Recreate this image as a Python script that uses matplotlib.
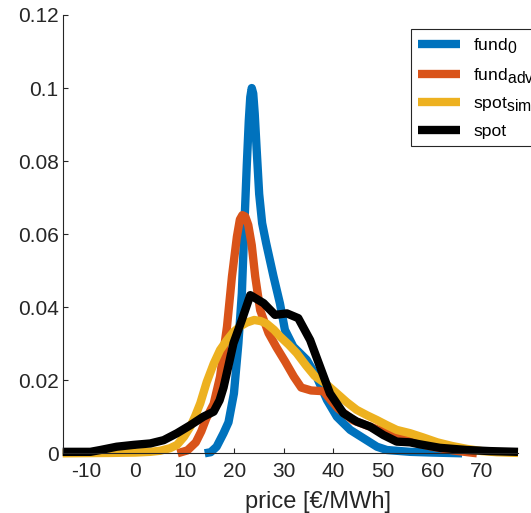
import matplotlib
matplotlib.use("Agg")
import matplotlib.pyplot as plt
import matplotlib._mathtext as mathtext_internal
from matplotlib.ticker import FuncFormatter

plt.rcParams["font.family"] = ["Liberation Sans", "DejaVu Sans"]
plt.rcParams["mathtext.fontset"] = "custom"
plt.rcParams["mathtext.rm"] = "Liberation Sans"
plt.rcParams["axes.unicode_minus"] = False
# MATLAB draws subscripts larger than mathtext does
mathtext_internal.SHRINK_FACTOR = 0.9

# price density curves
fund0_x = [14.0, 15.2, 16.4, 17.8, 18.8, 19.9, 20.8, 21.5, 22.0, 22.5, 22.9, 23.2,
           23.5, 23.8, 24.1, 24.5, 25.0, 25.6, 26.4, 27.9, 29.2, 30.2, 31.9, 34.6,
           36.6, 38.7, 40.7, 43.4, 46.1, 48.8, 50.8, 55.5, 60.0, 66.0]
fund0_y = [0.0, 0.0003, 0.0018, 0.0055, 0.0085, 0.0164, 0.0301, 0.0438, 0.0620, 0.0790, 0.0910, 0.0975,
           0.1000, 0.0985, 0.0930, 0.0830, 0.0710, 0.0630, 0.0576, 0.0484, 0.0410, 0.0338, 0.0292, 0.0256,
           0.0210, 0.0146, 0.0100, 0.0064, 0.0041, 0.0018, 0.0009, 0.0004, 0.0002, 0.0]

fundadv_x = [8.5, 10.5, 12.2, 13.3, 14.3, 15.8, 17.1, 18.5, 19.5, 20.5, 21.1, 21.6,
             22.2, 22.8, 23.5, 24.2, 25.2, 26.9, 28.5, 30.3, 32.0, 33.5, 35.5, 38.0,
             39.5, 41.0, 44.0, 47.4, 50.0, 53.0, 56.0, 60.0, 64.0, 69.0]
fundadv_y = [0.0, 0.0008, 0.003, 0.006, 0.0095, 0.0135, 0.021, 0.0347, 0.0484, 0.0593, 0.0640, 0.0652,
             0.0648, 0.0625, 0.0570, 0.0484, 0.0392, 0.0329, 0.0290, 0.0250, 0.0210, 0.0180, 0.0172, 0.0170,
             0.0145, 0.0122, 0.0090, 0.0073, 0.0060, 0.0045, 0.0030, 0.0018, 0.0008, 0.0]

spotsim_x = [-14.7, -5.0, 0.0, 3.0, 5.0, 7.0, 8.4, 9.8, 11.1, 12.1, 13.1, 14.4,
             15.8, 17.1, 18.5, 19.8, 21.2, 22.5, 24.0, 25.3, 26.5, 28.0, 29.2, 31.0,
             32.6, 34.5, 36.2, 38.5, 40.7, 42.7, 44.7, 46.8, 48.8, 50.8, 52.8, 55.5,
             58.0, 61.0, 64.0, 67.0, 70.0, 73.0, 77.3]
spotsim_y = [0.0, 0.0001, 0.0002, 0.0004, 0.0007, 0.0014, 0.0023, 0.0045, 0.0073, 0.0103, 0.0137, 0.0195,
             0.0245, 0.0283, 0.0310, 0.0332, 0.0348, 0.0358, 0.0365, 0.0362, 0.0355, 0.0338, 0.0320, 0.0297,
             0.0274, 0.0240, 0.0212, 0.0190, 0.0164, 0.0140, 0.0119, 0.0104, 0.0091, 0.0077, 0.0064, 0.0055,
             0.0044, 0.0030, 0.0020, 0.0012, 0.0006, 0.0003, 0.0001]

spot_x = [-14.7, -9.1, -7.1, -3.8, -0.4, 3.0, 5.7, 8.4, 11.1, 13.7, 15.8, 17.0,
          17.8, 18.8, 19.8, 21.5, 23.2, 25.9, 28.2, 30.6, 32.9, 35.3, 37.3, 39.3,
          42.0, 44.7, 47.4, 50.1, 52.8, 55.5, 57.3, 61.5, 67.0, 71.7, 77.3]
spot_y = [0.0004, 0.0004, 0.0009, 0.0018, 0.0023, 0.0027, 0.0036, 0.0055, 0.0077, 0.0100, 0.0114, 0.0145,
          0.0180, 0.0240, 0.0301, 0.0365, 0.0433, 0.0411, 0.0379, 0.0383, 0.0370, 0.0310, 0.0237, 0.0164,
          0.0110, 0.0087, 0.0073, 0.0050, 0.0032, 0.0030, 0.0025, 0.0015, 0.0009, 0.0006, 0.0004]

labels = ["fund$_\\mathrm{0}$", "fund$_\\mathrm{adv}$", "spot$_\\mathrm{sim}$", "spot"]
colors = ["#0072BD", "#D95319", "#EDB120", "#000000"]
x_ticks = [-10, 0, 10, 20, 30, 40, 50, 60, 70]
y_ticks = [0, 0.02, 0.04, 0.06, 0.08, 0.1, 0.12]

fig = plt.figure(figsize=(5.31, 5.13), dpi=100)
ax = fig.add_axes([62.7 / 531, (513 - 453.3) / 513, (518 - 62.7) / 531, 438.3 / 513])

series = [(fund0_x, fund0_y), (fundadv_x, fundadv_y), (spotsim_x, spotsim_y), (spot_x, spot_y)]
for (xs, ys), c, lab in zip(series, colors, labels):
    ax.plot(xs, ys, color=c, lw=6, label=lab, solid_joinstyle="round",
            solid_capstyle="butt", clip_on=False)

ax.set_xlim(-14.7, 77.3)
ax.set_ylim(0, 0.12)
ax.set_xticks(x_ticks)
ax.set_yticks(y_ticks)
ax.yaxis.set_major_formatter(FuncFormatter(lambda v, p: "%g" % v))

grey = "#262626"
for side in ["top", "right"]:
    ax.spines[side].set_visible(False)
for side in ["left", "bottom"]:
    ax.spines[side].set_color(grey)
    ax.spines[side].set_linewidth(0.8)
ax.tick_params(direction="in", length=3.6, width=0.8, color=grey, labelcolor=grey, labelsize=15)
ax.tick_params(axis="x", pad=6)
ax.tick_params(axis="y", pad=3)

ax.set_xlabel("price [€/MWh]", fontsize=17, color=grey)
ax.xaxis.label.set_va("center")
ax.xaxis.set_label_coords(0.56, -0.112)

leg = ax.legend(loc="upper left", bbox_to_anchor=(411 / 531, 1 - 29.3 / 513),
                bbox_transform=fig.transFigure, fontsize=12.6, frameon=True,
                fancybox=False, edgecolor=grey, framealpha=1, handlelength=2.4,
                handletextpad=0.75, labelspacing=0.6, borderpad=0.4, borderaxespad=0)
leg.get_frame().set_linewidth(0.8)

fig.savefig("out.png", dpi=100)
